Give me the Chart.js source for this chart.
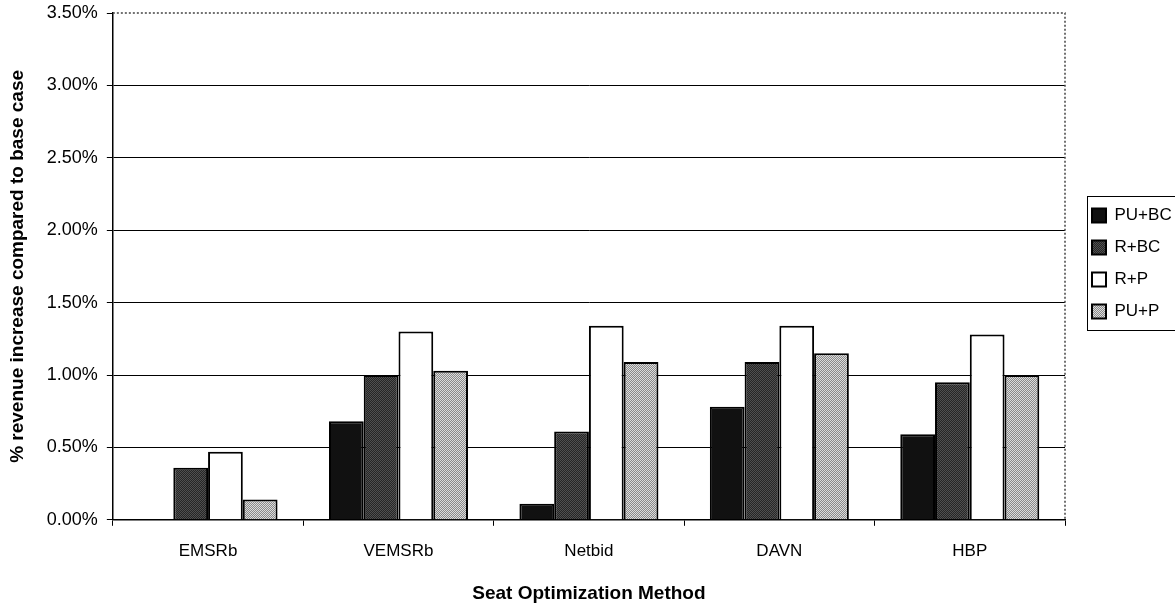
<!DOCTYPE html>
<html>
<head>
<meta charset="utf-8">
<script src="https://cdn.jsdelivr.net/npm/chart.js@4/dist/chart.umd.min.js"></script>
<style>
  html, body { margin: 0; padding: 0; background: #fff; }
  #wrap { width: 1175px; height: 607px; position: relative; }
</style>
</head>
<body>
<div id="wrap"><canvas id="chart"></canvas></div>
<script>
const categories = ['EMSRb', 'VEMSRb', 'Netbid', 'DAVN', 'HBP'];
const puBc = [0, 0.68, 0.11, 0.78, 0.59];
const rBc = [0.36, 1.00, 0.61, 1.09, 0.95];
const rP = [0.47, 1.30, 1.34, 1.34, 1.28];
const puP = [0.14, 1.03, 1.09, 1.15, 1.00];
const yMax = 3.5;
const yStep = 0.5;

// little stipple patterns like the printed greys
function makePattern(a, b) {
    const c = document.createElement('canvas');
    c.width = 2; c.height = 2;
    const g = c.getContext('2d');
    g.fillStyle = a; g.fillRect(0, 0, 2, 2);
    g.fillStyle = b; g.fillRect(0, 0, 1, 1); g.fillRect(1, 1, 1, 1);
    return g.createPattern(c, 'repeat');
}
const darkFill = makePattern('#262626', '#505050');
const lightFill = makePattern('#8a8a8a', '#dcdcdc');

const family = '"Liberation Sans", Arial, sans-serif';
const legendPad = 15;
const legendWidth = 110;
const legendGap = 12;
const legendFirstTop = 207;

// legend sits a bit away from the plot and higher up, inside a box
const legendPlace = {
    id: 'legendPlace',
    beforeLayout(chart) {
        const lg = chart.legend;
        if (lg && !lg._wrapped) {
            const fit = lg.fit;
            lg.fit = function () { fit.call(this); this.width = legendWidth; };
            lg._wrapped = true;
        }
    },
    afterLayout(chart) {
        const lg = chart.legend;
        lg.left += legendGap;
        const colH = lg.columnSizes[0].height;
        const startY = (lg.top + legendPad + lg.bottom - colH) / 2;
        const dy = legendFirstTop - startY;
        lg.top += dy;
        lg.bottom += dy;
        lg._boxTop = legendFirstTop - 11;
        lg._boxBottom = legendFirstTop + colH - 5;
    }
};

const plotBorder = {
    id: 'plotBorder',
    afterDraw(chart) {
        const { ctx, chartArea: a } = chart;
        ctx.save();
        ctx.strokeStyle = '#444';
        ctx.lineWidth = 1.5;
        ctx.setLineDash([2, 2]);
        ctx.beginPath();
        ctx.moveTo(a.left, a.top);
        ctx.lineTo(a.right, a.top);
        ctx.lineTo(a.right, a.bottom);
        ctx.stroke();
        ctx.setLineDash([]);
        const lg = chart.legend;
        ctx.strokeStyle = '#000';
        ctx.lineWidth = 1;
        const x = Math.round(lg.left + legendPad - 5) + 0.5;
        ctx.strokeRect(x, Math.round(lg._boxTop) + 0.5, chart.width - x + 5, Math.round(lg._boxBottom - lg._boxTop));
        ctx.restore();
    }
};

const ds = (label, data, fill) => ({
    label: label,
    data: data,
    backgroundColor: fill,
    borderColor: '#000',
    borderWidth: 2,
    categoryPercentage: 0.73,
    barPercentage: 1.0
});

new Chart(document.getElementById('chart'), {
    type: 'bar',
    data: {
        labels: categories,
        datasets: [
            ds('PU+BC', puBc, '#111'),
            ds('R+BC', rBc, darkFill),
            ds('R+P', rP, '#fff'),
            ds('PU+P', puP, lightFill)
        ]
    },
    options: {
        responsive: true,
        maintainAspectRatio: false,
        animation: false,
        layout: { padding: { top: 0, right: 0, left: 4, bottom: 2 } },
        plugins: {
            legend: {
                position: 'right',
                labels: {
                    color: '#000',
                    font: { family: family, size: 17 },
                    boxWidth: 14,
                    boxHeight: 14,
                    padding: legendPad
                }
            },
            tooltip: { enabled: false }
        },
        scales: {
            x: {
                grid: {
                    offset: true,
                    drawOnChartArea: false,
                    drawTicks: true,
                    tickLength: 6,
                    color: '#000'
                },
                border: { color: '#000', width: 1.5 },
                ticks: { color: '#000', font: { family: family, size: 17 }, padding: 15 },
                title: {
                    display: true,
                    text: 'Seat Optimization Method',
                    color: '#000',
                    font: { family: family, size: 19, weight: 'bold' },
                    padding: { top: 6, bottom: 0 }
                }
            },
            y: {
                min: 0,
                max: yMax,
                afterFit: (s) => { s.paddingTop = 13; },
                grid: {
                    color: (c) => c.tick && c.tick.value === yMax ? 'rgba(0,0,0,0)' : '#000',
                    tickColor: '#000',
                    tickLength: 6,
                    lineWidth: 1
                },
                border: { color: '#000', width: 1.5 },
                ticks: {
                    stepSize: yStep,
                    color: '#000',
                    font: { family: family, size: 18 },
                    padding: 9,
                    callback: (v) => v.toFixed(2) + '%'
                },
                title: {
                    display: true,
                    text: '% revenue increase compared to base case',
                    color: '#000',
                    font: { family: family, size: 19, weight: 'bold' },
                    padding: { top: 2, bottom: 9 }
                }
            }
        }
    },
    plugins: [legendPlace, plotBorder]
});
</script>
</body>
</html>
